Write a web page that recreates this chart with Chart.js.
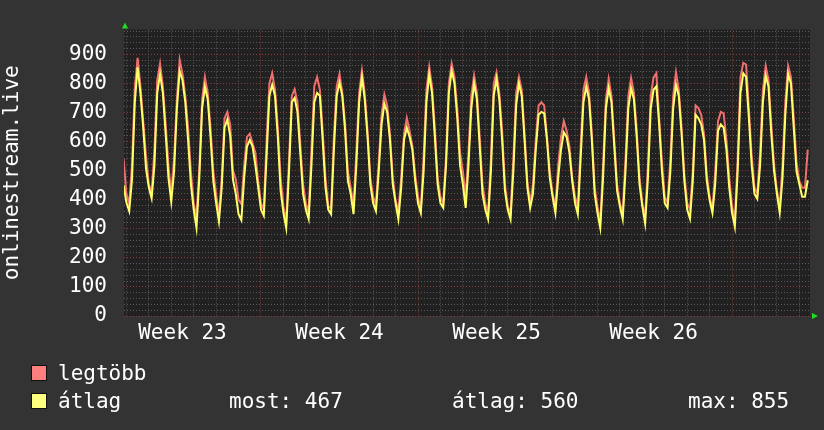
<!DOCTYPE html>
<html>
<head>
<meta charset="utf-8">
<script src="https://cdn.jsdelivr.net/npm/chart.js@4/dist/chart.umd.min.js"></script>
<style>
    html, body { margin: 0; padding: 0; background: #333333; }
    .wrap { position: relative; width: 824px; height: 430px; overflow: hidden; }
    #graph { position: absolute; left: 0; top: 0; }
    .legend__txt {
        position: absolute;
        font-family: "DejaVu Sans Mono", monospace;
        font-size: 21px;
        line-height: 21px;
        color: #ffffff;
        white-space: pre;
    }
    .legend__box {
        position: absolute;
        width: 14px;
        height: 14px;
        border: 1px solid #111;
    }
</style>
</head>
<body>
<div class="wrap">
    <canvas id="graph" width="824" height="430"></canvas>
    <div class="legend__box" style="left:31px; top:365px; background:#ff7f7f;"></div>
    <div class="legend__txt" style="left:58px; top:363px;">legtöbb</div>
    <div class="legend__box" style="left:31px; top:393px; background:#ffff80;"></div>
    <div class="legend__txt" style="left:58px; top:391px;">átlag</div>
    <div class="legend__txt" style="left:229px; top:391px;">most: 467</div>
    <div class="legend__txt" style="left:452px; top:391px;">átlag: 560</div>
    <div class="legend__txt" style="left:688px; top:391px;">max: 855</div>
</div>
<script>
// one value every 3 hours, first one at -3h (day 0 starts at 0h)
const legtobb = [
    540,
    420, 385, 520, 785, 888, 790, 670, 550,
    453, 425, 572, 811, 868, 790, 660, 518,
    420, 540, 745, 881, 833, 757, 648, 497,
    388, 340, 507, 745, 822, 767, 648, 497,
    420, 345, 475, 680, 702, 660, 500, 470,
    400, 385, 518, 616, 627, 594, 562, 464,
    388, 366, 605, 800, 835, 778, 648, 475,
    377, 323, 540, 757, 780, 735, 594, 453,
    388, 355, 572, 790, 822, 778, 637, 475,
    377, 370, 616, 790, 833, 767, 660, 497,
    442, 377, 562, 767, 844, 767, 637, 475,
    410, 385, 530, 692, 762, 724, 626, 475,
    399, 361, 475, 626, 681, 637, 583, 486,
    410, 366, 550, 778, 857, 790, 648, 475,
    410, 388, 550, 800, 868, 822, 713, 562,
    497, 410, 562, 757, 827, 767, 616, 453,
    388, 355, 540, 800, 838, 767, 637, 453,
    377, 355, 540, 767, 822, 778, 626, 464,
    388, 453, 605, 724, 735, 724, 616, 497,
    420, 377, 518, 616, 670, 637, 583, 475,
    410, 377, 583, 778, 822, 767, 626, 442,
    377, 323, 518, 745, 816, 757, 605, 453,
    388, 355, 540, 757, 819, 767, 637, 475,
    388, 340, 518, 757, 820, 835, 681, 530,
    410, 388, 540, 757, 838, 778, 648, 486,
    388, 366, 497, 724, 715, 692, 626, 486,
    410, 366, 497, 670, 702, 697, 605, 475,
    377, 334, 540, 822, 871, 865, 713, 550,
    442, 420, 562, 778, 860, 811, 659, 518,
    431, 377, 518, 735, 860, 822, 681, 530,
    464, 442, 440, 572
];

const atlag = [
    450,
    390, 361, 470, 735, 855, 767, 648, 507,
    442, 405, 518, 767, 833, 767, 626, 475,
    393, 497, 713, 843, 811, 735, 605, 453,
    366, 303, 475, 713, 789, 745, 616, 464,
    388, 325, 442, 648, 676, 620, 470, 420,
    350, 330, 475, 583, 605, 583, 518, 442,
    366, 345, 550, 757, 795, 757, 616, 431,
    355, 303, 497, 735, 750, 702, 562, 420,
    366, 333, 518, 735, 767, 757, 605, 442,
    366, 350, 572, 757, 803, 757, 637, 464,
    420, 350, 518, 735, 822, 745, 616, 453,
    388, 361, 497, 659, 730, 702, 605, 453,
    388, 333, 442, 605, 648, 616, 572, 464,
    388, 355, 497, 735, 831, 767, 616, 453,
    388, 372, 518, 767, 844, 800, 681, 518,
    453, 372, 518, 713, 800, 745, 583, 420,
    366, 333, 497, 757, 816, 745, 605, 431,
    366, 333, 497, 724, 800, 757, 605, 442,
    372, 420, 572, 692, 702, 697, 605, 475,
    410, 355, 475, 572, 632, 616, 562, 464,
    388, 350, 540, 735, 789, 745, 605, 420,
    355, 303, 475, 713, 784, 735, 583, 431,
    377, 333, 497, 713, 784, 745, 616, 453,
    377, 318, 475, 713, 778, 790, 659, 497,
    388, 372, 497, 713, 795, 757, 626, 464,
    366, 335, 464, 692, 680, 659, 605, 464,
    399, 355, 453, 637, 659, 648, 572, 442,
    355, 307, 497, 767, 835, 822, 681, 518,
    420, 403, 518, 735, 827, 789, 626, 497,
    420, 355, 475, 692, 833, 800, 648, 497,
    453, 410, 410, 467
];

const weekLabels = ['Week 23', 'Week 24', 'Week 25', 'Week 26'];
const weekMidHours = [60, 228, 396, 564];
const weekStartHours = [144, 312, 480, 648];
const yLabels = [0, 100, 200, 300, 400, 500, 600, 700, 800, 900];

const hours = legtobb.map((v, i) => -3 + i * 3);
const dayHours = [];
for (let d = 0; d <= 30; d++) dayHours.push(d * 24);

const MONO = 'DejaVu Sans Mono';
const MINOR = '#5a5a5a';
const MAJOR = '#8a3a3a';

const plotBg = {
    id: 'plotBg',
    beforeDraw(chart) {
        const { ctx, chartArea: a } = chart;
        ctx.save();
        ctx.fillStyle = '#333333';
        ctx.fillRect(0, 0, chart.width, chart.height);
        ctx.fillStyle = '#212121';
        ctx.fillRect(a.left, a.top, a.right - a.left, a.bottom - a.top);
        ctx.restore();
    },
    afterDraw(chart) {
        const { ctx, chartArea: a } = chart;
        ctx.save();
        ctx.fillStyle = '#22dd22';
        ctx.beginPath();
        ctx.moveTo(a.left - 2, a.top - 1);
        ctx.lineTo(a.left + 4, a.top - 1);
        ctx.lineTo(a.left + 1, a.top - 7);
        ctx.closePath();
        ctx.fill();
        ctx.beginPath();
        ctx.moveTo(a.right + 2, a.bottom - 3);
        ctx.lineTo(a.right + 2, a.bottom + 3);
        ctx.lineTo(a.right + 8, a.bottom);
        ctx.closePath();
        ctx.fill();
        ctx.restore();
    }
};

const chart = new Chart(document.getElementById('graph'), {
    type: 'line',
    data: {
        labels: hours,
        datasets: [{
            label: 'átlag',
            data: atlag.map((v, i) => ({ x: hours[i], y: v })),
            borderColor: '#ffff66',
            borderWidth: 2,
            pointRadius: 0,
            tension: 0,
            order: 0
        }, {
            label: 'legtöbb',
            data: legtobb.map((v, i) => ({ x: hours[i], y: v })),
            borderColor: '#f07070',
            borderWidth: 2,
            pointRadius: 0,
            tension: 0,
            order: 1
        }]
    },
    options: {
        responsive: false,
        animation: false,
        devicePixelRatio: 1,
        layout: { padding: { left: 0, top: 13, right: 14, bottom: 0 } },
        scales: {
            x: {
                type: 'linear',
                min: -2.57,
                max: 731.4,
                afterBuildTicks: scale => {
                    scale.ticks = dayHours.concat(weekMidHours).map(v => ({ value: v }));
                },
                afterFit: scale => { scale.height = 114; },
                grid: {
                    drawTicks: false,
                    color: c => weekStartHours.includes(c.tick.value) ? MAJOR
                        : (weekMidHours.includes(c.tick.value) ? 'rgba(0,0,0,0)' : MINOR)
                },
                border: { display: false, dash: [1, 2] },
                ticks: {
                    autoSkip: false,
                    maxRotation: 0,
                    padding: 5,
                    color: '#ffffff',
                    font: { family: MONO, size: 21 },
                    callback: value => {
                        const i = weekMidHours.indexOf(value);
                        return i >= 0 ? weekLabels[i] : '';
                    }
                }
            },
            y: {
                min: 0,
                max: 985,
                afterBuildTicks: scale => {
                    const t = [];
                    for (let v = 0; v <= 980; v += 20) t.push({ value: v });
                    scale.ticks = t;
                },
                afterFit: scale => { scale.width = 124; },
                grid: {
                    drawTicks: false,
                    color: c => c.tick.value % 100 === 0 ? MAJOR : MINOR
                },
                border: { display: false, dash: [1, 2] },
                ticks: {
                    autoSkip: false,
                    padding: 17,
                    color: '#ffffff',
                    font: { family: MONO, size: 21 },
                    callback: value => yLabels.includes(value) ? String(value) : ''
                },
                title: {
                    display: true,
                    text: 'onlinestream.live',
                    color: '#ffffff',
                    font: { family: MONO, size: 21 },
                    padding: { top: 0, bottom: 0 }
                }
            }
        },
        plugins: {
            legend: { display: false },
            tooltip: { enabled: false }
        }
    },
    plugins: [plotBg]
});
</script>
</body>
</html>
